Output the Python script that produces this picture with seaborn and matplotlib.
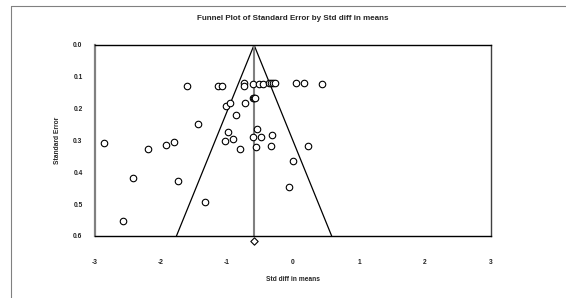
import matplotlib
matplotlib.use("Agg")
import matplotlib.pyplot as plt
import seaborn as sns
import pandas as pd
import numpy as np
from matplotlib.lines import Line2D

sns.set_style("white")
plt.rcParams['font.family'] = ['Liberation Sans', 'DejaVu Sans']

std_diff = [-1.60, -1.13, -1.07, -0.75, -0.75, -0.61, -0.52, -0.45, -0.37, -0.34,
            -0.31, -0.27, 0.05, 0.17, 0.44,
            -0.61, -0.59, -0.57,
            -1.02, -0.955, -0.73, -0.86, -1.44, -0.99, -0.55, -0.61, -0.49, -0.32,
            -1.03, -0.91, -0.80, -0.56, -0.34, 0.23, 0.00, -0.06,
            -2.87, -2.57, -2.43, -2.19, -1.93, -1.80, -1.74, -1.33]
std_err = [0.129, 0.129, 0.129, 0.120, 0.130, 0.123, 0.123, 0.123, 0.120, 0.118,
           0.118, 0.120, 0.120, 0.120, 0.122,
           0.168, 0.168, 0.168,
           0.193, 0.182, 0.183, 0.219, 0.249, 0.274, 0.264, 0.288, 0.288, 0.284,
           0.300, 0.296, 0.328, 0.321, 0.317, 0.317, 0.364, 0.447,
           0.307, 0.552, 0.417, 0.326, 0.313, 0.306, 0.428, 0.493]
pooled_mean = -0.59
se_max = 0.6
x_ticks = [-3, -2, -1, 0, 1, 2, 3]
y_ticks = [0.0, 0.1, 0.2, 0.3, 0.4, 0.5, 0.6]

df = pd.DataFrame({"Std diff in means": std_diff, "Standard Error": std_err})

fig = plt.figure(figsize=(5.66, 2.98), dpi=100)
ax = fig.add_axes([95/566, 1-236/298, (491-95)/566, (236-45)/298])

# funnel
ax.plot([pooled_mean - 1.96*se_max, pooled_mean, pooled_mean + 1.96*se_max],
        [se_max, 0, se_max], color='black', lw=0.9, zorder=2)
ax.plot([pooled_mean, pooled_mean], [0, se_max], color='#808080', lw=1.5, zorder=2)

sns.scatterplot(data=df, x="Std diff in means", y="Standard Error", ax=ax,
                marker='o', s=22, facecolor='white', edgecolor='black',
                linewidth=0.8, zorder=3, legend=False)

ax.scatter([pooled_mean], [0.615], marker='D', s=14, facecolor='white',
           edgecolor='black', linewidth=0.8, clip_on=False, zorder=4)

ax.set_xlim(-3, 3)
ax.set_ylim(0.6, 0.0)
ax.set_xticks(x_ticks)
ax.set_xticklabels([str(t) for t in x_ticks])
ax.set_yticks(y_ticks)
ax.set_yticklabels([f"{t:.1f}" for t in y_ticks])
ax.tick_params(axis='x', direction='inout', length=3, width=0.6, pad=15,
               labelsize=4.8, colors='black')
ax.tick_params(axis='y', direction='out', length=3, width=0.6, pad=6,
               labelsize=4.8, colors='black')
for lab in ax.get_xticklabels() + ax.get_yticklabels():
    lab.set_fontweight('bold')
    lab.set_color('#222222')

ax.set_xlabel("Std diff in means", fontsize=4.8, fontweight='bold', labelpad=7)
ax.set_ylabel("Standard Error", fontsize=4.8, fontweight='bold', labelpad=9)
ax.set_title("Funnel Plot of Standard Error by Std diff in means",
             fontsize=5.8, fontweight='bold', pad=18)

for side in ['top', 'bottom']:
    ax.spines[side].set_color('black')
    ax.spines[side].set_linewidth(1.0)
ax.spines['left'].set_color('#808080')
ax.spines['left'].set_linewidth(1.6)
ax.spines['right'].set_color('#404040')
ax.spines['right'].set_linewidth(1.0)

# page frame
fig.add_artist(Line2D([11/566, 1], [1-6/298, 1-6/298], color='#808080', lw=0.8))
fig.add_artist(Line2D([11/566, 11/566], [0, 1-6/298], color='#808080', lw=0.8))

fig.savefig("out.png", dpi=100)
